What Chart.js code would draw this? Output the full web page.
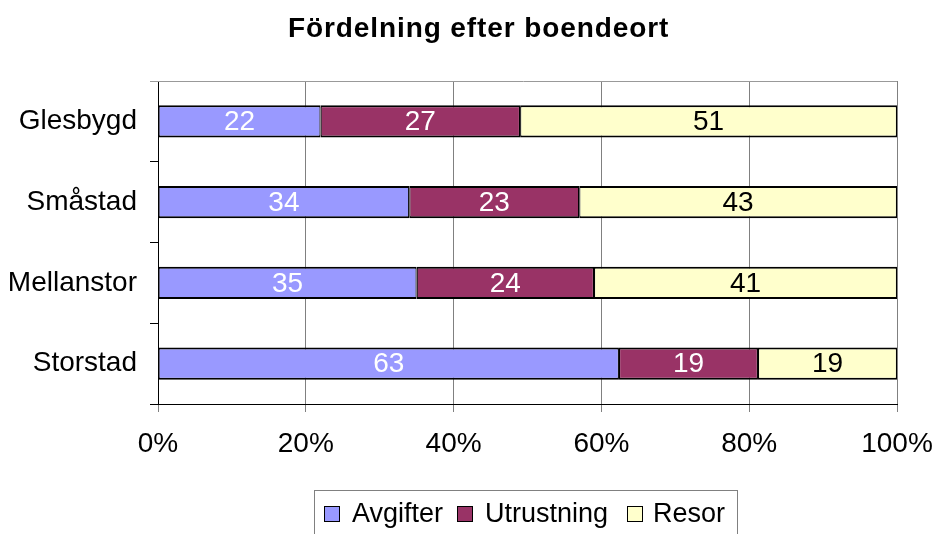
<!DOCTYPE html>
<html>
<head>
<meta charset="utf-8">
<script src="https://cdn.jsdelivr.net/npm/chart.js@4/dist/chart.umd.min.js"></script>
<style>
  html, body { margin: 0; padding: 0; background: #fff; }
  #wrap { width: 937px; height: 534px; position: relative; }
</style>
</head>
<body>
<div id="wrap"><canvas id="c" width="937" height="534"></canvas></div>
<script>
const title = 'Fördelning efter boendeort';
const categories = ['Glesbygd', 'Småstad', 'Mellanstor', 'Storstad'];
const seriesNames = ['Avgifter', 'Utrustning', 'Resor'];
const avgifter = [22, 34, 35, 63];
const utrustning = [27, 23, 24, 19];
const resor = [51, 43, 41, 19];
const tickValues = [0, 20, 40, 60, 80, 100];

const colors = ['#9999FF', '#993366', '#FFFFCC'];
const labelColors = ['#FFFFFF', '#FFFFFF', '#000000'];
const FONT = "'Liberation Sans', Arial, sans-serif";

const rawSeries = [avgifter, utrustning, resor];
const totals = categories.map((_, i) => rawSeries.reduce((s, arr) => s + arr[i], 0));

const datasets = rawSeries.map((arr, k) => ({
  label: seriesNames[k],
  data: arr.map((v, i) => v / totals[i] * 100),
  rawValues: arr,
  backgroundColor: colors[k],
  borderColor: '#000000',
  borderWidth: { top: 2, bottom: 2, left: 1.2, right: 1.2 },
  borderSkipped: false,
  barPercentage: 0.4,
  categoryPercentage: 1.0
}));

const extras = {
  id: 'extras',
  afterDatasetsDraw(chart) {
    const ctx = chart.ctx;
    const a = chart.chartArea;
    ctx.save();
    // top border
    ctx.strokeStyle = '#999999';
    ctx.lineWidth = 1;
    ctx.beginPath();
    ctx.moveTo(150, Math.round(a.top) + 0.5);
    ctx.lineTo(a.right, Math.round(a.top) + 0.5);
    ctx.stroke();
    // data labels
    ctx.font = '28px ' + FONT;
    ctx.textAlign = 'center';
    ctx.textBaseline = 'middle';
    chart.data.datasets.forEach((ds, k) => {
      const meta = chart.getDatasetMeta(k);
      meta.data.forEach((el, i) => {
        const x = (el.x + el.base) / 2;
        ctx.fillStyle = labelColors[k];
        ctx.fillText(String(ds.rawValues[i]), x, el.y + 1);
      });
    });
    ctx.restore();
  },
  afterDraw(chart) {
    const ctx = chart.ctx;
    ctx.save();
    // title
    ctx.fillStyle = '#000';
    ctx.font = 'bold 28px ' + FONT;
    ctx.letterSpacing = '0.9px';
    ctx.textAlign = 'left';
    ctx.textBaseline = 'alphabetic';
    ctx.fillText(title, 288, 37);
    ctx.letterSpacing = '0px';
    // legend
    ctx.strokeStyle = '#808080';
    ctx.lineWidth = 1;
    ctx.strokeRect(314.5, 490.5, 423, 60);
    const sq = [324.5, 457.5, 627.5];
    const tx = [352, 485, 653];
    ctx.font = '27px ' + FONT;
    seriesNames.forEach((name, k) => {
      ctx.fillStyle = colors[k];
      ctx.fillRect(sq[k], 506.5, 15, 15);
      ctx.strokeStyle = '#000';
      ctx.strokeRect(sq[k], 506.5, 15, 15);
      ctx.fillStyle = '#000';
      ctx.fillText(name, tx[k], 522);
    });
    ctx.restore();
  }
};

new Chart(document.getElementById('c'), {
  type: 'bar',
  data: { labels: categories, datasets },
  plugins: [extras],
  options: {
    indexAxis: 'y',
    responsive: false,
    animation: false,
    devicePixelRatio: 1,
    layout: { padding: { top: 81, right: 40, bottom: 80, left: 0 } },
    plugins: {
      legend: { display: false },
      title: { display: false },
      tooltip: { enabled: false }
    },
    scales: {
      x: {
        stacked: true,
        min: 0, max: 100,
        afterBuildTicks(scale) { scale.ticks = tickValues.map(v => ({ value: v })); },
        afterFit(scale) { scale.height = 50; scale.paddingRight = 0; scale.paddingLeft = 0; },
        ticks: {
          color: '#000',
          font: { family: FONT, size: 28 },
          padding: 15,
          maxRotation: 0,
          callback: v => v + '%'
        },
        grid: {
          color: '#808080',
          lineWidth: 1,
          tickLength: 8,
          tickColor: '#808080',
          drawOnChartArea: true
        },
        border: { display: true, color: '#000', width: 1 }
      },
      y: {
        stacked: true,
        afterFit(scale) { scale.width = 158; scale.paddingTop = 0; scale.paddingBottom = 0; },
        ticks: {
          color: '#000',
          font: { family: FONT, size: 28 },
          padding: 13
        },
        grid: {
          offset: true,
          drawOnChartArea: false,
          tickLength: 8,
          tickColor: '#000',
          color: '#000'
        },
        border: { display: true, color: '#000', width: 1 }
      }
    }
  }
});
</script>
</body>
</html>
